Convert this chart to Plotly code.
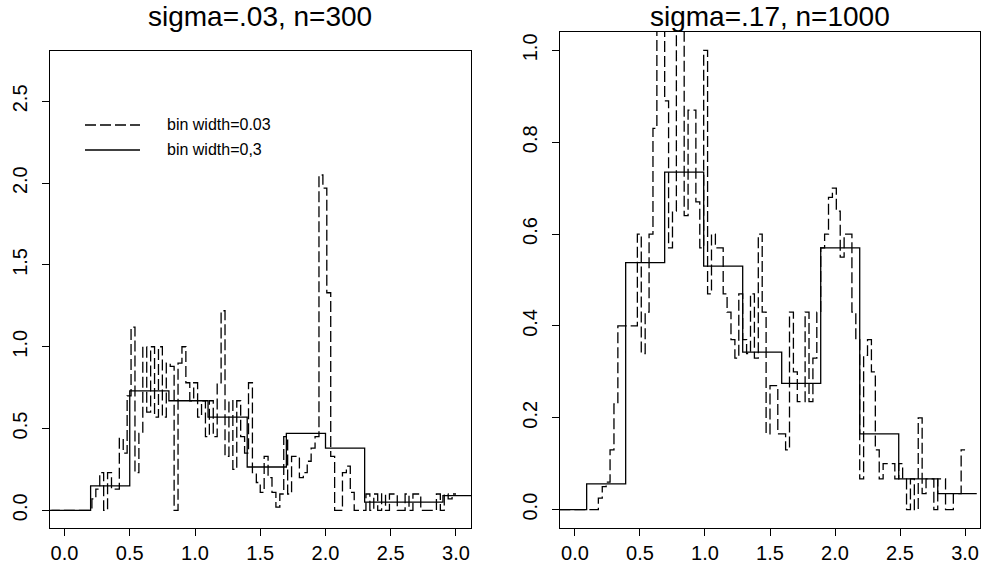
import plotly.graph_objects as go

# ---------------- data ----------------
dash_width = 0.03
solid_width = 0.3

left_dash_start = -0.12
left_dash_vals = [0, 0, 0, 0,
    0, 0, 0, 0, 0, 0, 0, 0.07, 0.13, 0.23,
    0.0, 0.23, 0.13, 0.13, 0.44, 0.35, 0.70, 1.12, 0.23, 0.47,
    1.00, 0.60, 1.00, 0.57, 1.00, 0.57, 0.90, 0.88, 0.00, 0.90,
    1.00, 0.78, 0.67, 0.78, 0.57, 0.67, 0.45, 0.67, 0.45, 0.78,
    1.22, 0.33, 0.67, 0.25, 0.67, 0.45, 0.35, 0.78, 0.23, 0.17,
    0.11, 0.33, 0.20, 0.11, 0.02, 0.10, 0.45, 0.10, 0.33, 0.33,
    0.20, 0.23, 0.30, 0.38, 0.45, 2.05, 1.97, 1.33, 0.33, 0.0,
    0.0, 0.23, 0.27, 0.11, 0.0, 0.0, 0.0, 0.10, 0.0, 0.10,
    0.0, 0.10, 0.0, 0.10, 0.10, 0.0, 0.0, 0.10, 0.0, 0.10,
    0.10, 0.0, 0.0, 0.0, 0.0, 0.10, 0.0, 0.10, 0.07, 0.10]

left_solid_start = -0.1
left_solid_vals = [0.0, 0.15, 0.73, 0.67, 0.57, 0.265, 0.47, 0.38, 0.05, 0.05, 0.09]

right_dash_start = -0.12
right_dash_vals = [0, 0, 0, 0,
    0, 0, 0, 0, 0, 0, 0.025, 0.05, 0.06, 0.13,
    0.23, 0.40, 0.40, 0.40, 0.40, 0.40, 0.60, 0.34, 0.43, 0.60,
    0.83, 1.05, 1.05, 0.89, 0.57, 0.65, 1.05, 1.05, 0.64, 0.87,
    0.87, 0.67, 0.57, 1.00, 0.47, 0.60, 0.57, 0.57, 0.47, 0.43,
    0.37, 0.33, 0.47, 0.37, 0.34, 0.47, 0.33, 0.60, 0.43, 0.165,
    0.27, 0.27, 0.165, 0.165, 0.13, 0.43, 0.30, 0.235, 0.235, 0.43,
    0.235, 0.33, 0.43, 0.57, 0.60, 0.68, 0.70, 0.65, 0.55, 0.60,
    0.60, 0.43, 0.37, 0.067, 0.336, 0.37, 0.30, 0.13, 0.067, 0.10,
    0.10, 0.10, 0.067, 0.10, 0.067, 0.0, 0.067, 0.0, 0.20, 0.035,
    0.067, 0.067, 0.0, 0.067, 0.067, 0.0, 0.0, 0.035, 0.035, 0.13]

right_solid_start = -0.21
right_solid_vals = [0.0, 0.056, 0.538, 0.735, 0.53, 0.343, 0.275, 0.57, 0.165, 0.067, 0.035]

x_ticks = [0.0, 0.5, 1.0, 1.5, 2.0, 2.5, 3.0]
x_tick_labels = ["0.0", "0.5", "1.0", "1.5", "2.0", "2.5", "3.0"]
left_y_ticks = [0.0, 0.5, 1.0, 1.5, 2.0, 2.5]
left_y_labels = ["0.0", "0.5", "1.0", "1.5", "2.0", "2.5"]
right_y_ticks = [0.0, 0.2, 0.4, 0.6, 0.8, 1.0]
right_y_labels = ["0.0", "0.2", "0.4", "0.6", "0.8", "1.0"]

titles = ["sigma=.03, n=300", "sigma=.17, n=1000"]
legend_labels = ["bin width=0.03", "bin width=0,3"]

# ---------------- helpers ----------------
W, H = 982, 576
FONT = "Liberation Sans, Arial, Helvetica, sans-serif"
DASH = "11px,4px"


def step(start, width, vals):
    xs = [start + i * width for i in range(len(vals) + 1)]
    ys = list(vals) + [vals[-1]]
    return xs, ys


def px_x(p):
    return p / W


def px_y(p):
    return (H - p) / H


fig = go.Figure()

for (ds, dv, ss, sv, xa, ya) in [
    (left_dash_start, left_dash_vals, left_solid_start, left_solid_vals, "x", "y"),
    (right_dash_start, right_dash_vals, right_solid_start, right_solid_vals, "x2", "y2"),
]:
    x, y = step(ds, dash_width, dv)
    fig.add_trace(go.Scatter(x=x, y=y, mode="lines", line_shape="hv",
                             line=dict(color="black", width=1.3, dash=DASH),
                             xaxis=xa, yaxis=ya, showlegend=False, hoverinfo="skip"))
    x, y = step(ss, solid_width, sv)
    fig.add_trace(go.Scatter(x=x, y=y, mode="lines", line_shape="hv",
                             line=dict(color="black", width=1.3),
                             xaxis=xa, yaxis=ya, showlegend=False, hoverinfo="skip"))

axis_common = dict(showline=True, linecolor="black", linewidth=1, mirror=True,
                   ticks="outside", ticklen=7, tickwidth=1, tickcolor="black",
                   showgrid=False, zeroline=False,
                   tickfont=dict(family=FONT, size=20, color="black"))

fig.update_layout(
    width=W, height=H,
    margin=dict(l=0, r=0, t=0, b=0),
    paper_bgcolor="white", plot_bgcolor="white",
    xaxis=dict(domain=[px_x(49.5), px_x(471)], range=[-0.115, 3.115],
               tickvals=x_ticks, ticktext=x_tick_labels, anchor="y", **axis_common),
    yaxis=dict(domain=[px_y(528), px_y(51)], range=[-0.108, 2.808],
               tickvals=left_y_ticks, ticktext=left_y_labels, tickangle=-90,
               ticklabelstandoff=7, anchor="x", **axis_common),
    xaxis2=dict(domain=[px_x(560), px_x(980)], range=[-0.115, 3.115],
                tickvals=x_ticks, ticktext=x_tick_labels, anchor="y2", **axis_common),
    yaxis2=dict(domain=[px_y(528), px_y(32)], range=[-0.04, 1.04],
                tickvals=right_y_ticks, ticktext=right_y_labels, tickangle=-90,
                ticklabelstandoff=7, anchor="x2", **axis_common),
)

# titles
for t, cx in zip(titles, [(49.5 + 471) / 2, (560 + 980) / 2]):
    fig.add_annotation(text=t, x=px_x(cx), y=px_y(17), xref="paper", yref="paper",
                       xanchor="center", yanchor="middle", showarrow=False,
                       font=dict(family=FONT, size=28, color="black"))

# legend (left panel)
for i, (lab, dash) in enumerate(zip(legend_labels, [DASH, "solid"])):
    yy = 125 + i * 25
    fig.add_shape(type="line", xref="paper", yref="paper",
                  x0=px_x(85), x1=px_x(140), y0=px_y(yy), y1=px_y(yy),
                  line=dict(color="black", width=1.3, dash=dash))
    fig.add_annotation(text=lab, x=px_x(165), y=px_y(yy), xref="paper", yref="paper",
                       xanchor="left", yanchor="middle", showarrow=False,
                       font=dict(family=FONT, size=16, color="black"))

fig.write_html("out.html",
               config={"displayModeBar": False, "staticPlot": True},
               post_script="document.body.style.margin='0';document.body.style.overflow='hidden';")
